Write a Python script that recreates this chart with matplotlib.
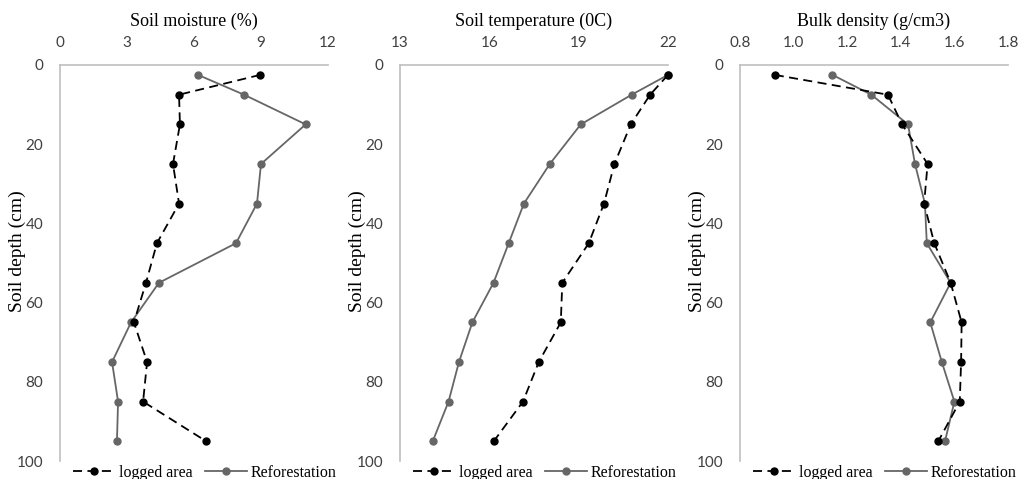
import matplotlib
matplotlib.use("Agg")
import matplotlib.pyplot as plt
import numpy as np

glebokosc = [2.5, 7.5, 15, 25, 35, 45, 55, 65, 75, 85, 95]

wilgotnosc_wyrab = [8.96, 5.33, 5.37, 5.06, 5.33, 4.34, 3.85, 3.31, 3.90, 3.72, 6.54]
wilgotnosc_zalesienie = [6.18, 8.24, 11.0, 9.0, 8.82, 7.88, 4.43, 3.18, 2.33, 2.60, 2.55]

temperatura_wyrab = [22.0, 21.4, 20.75, 20.2, 19.85, 19.34, 18.45, 18.4, 17.66, 17.13, 16.15]
temperatura_zalesienie = [22.0, 20.78, 19.07, 18.03, 17.16, 16.65, 16.14, 15.43, 14.98, 14.63, 14.1]

gestosc_wyrab = [0.93, 1.352, 1.405, 1.50, 1.487, 1.525, 1.586, 1.627, 1.625, 1.62, 1.54]
gestosc_zalesienie = [1.145, 1.29, 1.427, 1.453, 1.49, 1.497, 1.586, 1.51, 1.553, 1.60, 1.565]

panele = [
    ("Soil moisture (%)", wilgotnosc_wyrab, wilgotnosc_zalesienie, (0, 12), [0, 3, 6, 9, 12], ["0", "3", "6", "9", "12"]),
    ("Soil temperature (0C)", temperatura_wyrab, temperatura_zalesienie, (13, 22), [13, 16, 19, 22], ["13", "16", "19", "22"]),
    ("Bulk density (g/cm3)", gestosc_wyrab, gestosc_zalesienie, (0.8, 1.8), [0.8, 1.0, 1.2, 1.4, 1.6, 1.8],
     ["0.8", "1.0", "1.2", "1.4", "1.6", "1.8"]),
]

W, H = 1022, 479
fig = plt.figure(figsize=(W / 100, H / 100), dpi=100)

lewe = [60, 400, 740]
szer = 268
gora = 65
dol = 461

szary = "#666666"
os_kolor = "#bfbfbf"
serif = "Liberation Serif"
sans = "Lato"

for lewa, (tytul, wyrab, zalesienie, xlim, xt, xtl) in zip(lewe, panele):
    ax = fig.add_axes([lewa / W, (H - dol) / H, szer / W, (dol - gora) / H])
    ax.plot(wyrab, glebokosc, color="black", linestyle=(0, (5, 3)), linewidth=1.3,
            marker="o", markersize=5, label="logged area", clip_on=False, zorder=3)
    ax.plot(zalesienie, glebokosc, color=szary, linestyle="-", linewidth=1.3,
            marker="o", markersize=5, label="Reforestation", clip_on=False, zorder=2)
    ax.set_xlim(*xlim)
    ax.set_ylim(100, 0)
    ax.set_xticks(xt)
    ax.set_xticklabels(xtl, fontfamily=sans, fontsize=11)
    ax.set_yticks(np.arange(0, 101, 20))
    ax.set_yticklabels([str(v) for v in range(0, 101, 20)], fontfamily=sans, fontsize=11)
    ax.xaxis.tick_top()
    ax.tick_params(length=0, colors="#404040")
    ax.tick_params(axis="y", pad=12)
    ax.tick_params(axis="x", pad=11)
    for s in ["right", "bottom"]:
        ax.spines[s].set_visible(False)
    for s in ["top", "left"]:
        ax.spines[s].set_color(os_kolor)
        ax.spines[s].set_linewidth(1.2)
    ax.set_title(tytul, fontfamily=serif, fontsize=13, pad=28)
    ax.set_ylabel("Soil depth (cm)", fontfamily=serif, fontsize=14)
    ax.yaxis.set_label_coords(-0.125, 0.53)
    ax.legend(loc="center", bbox_to_anchor=(0.54, -0.03), ncol=2, frameon=False,
              prop={"family": serif, "size": 11.5}, handlelength=2.6, columnspacing=0.8,
              handletextpad=0.25, borderpad=0.2)

fig.savefig("out.png", dpi=100)
